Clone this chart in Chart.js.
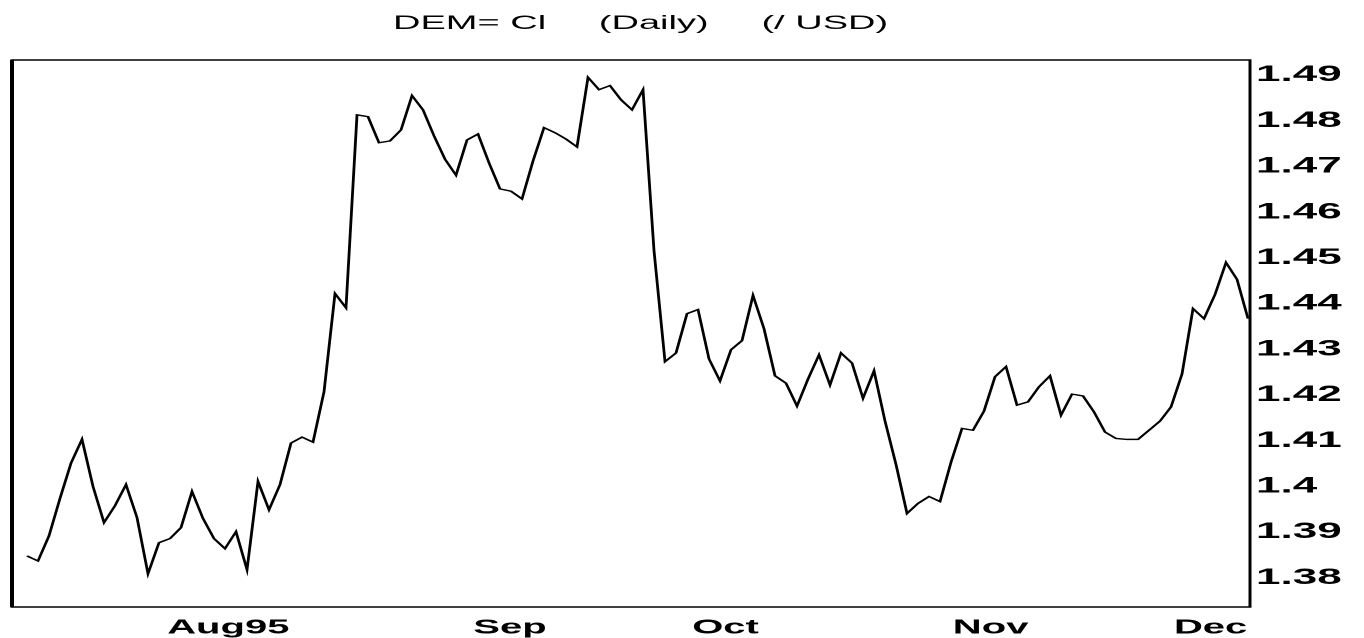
<!DOCTYPE html>
<html>
<head>
<meta charset="utf-8">
<title>DEM= Cl (Daily) (/ USD)</title>
<script src="https://cdn.jsdelivr.net/npm/chart.js@4.4.1/dist/chart.umd.min.js"></script>
<style>
    html, body {
        margin: 0;
        padding: 0;
        background: #fff;
        overflow: hidden;
        height: 638px;
    }
    /* the scan is stretched sideways, so the chart is drawn at half width and widened */
    #stretch {
        width: 682px;
        height: 648px;
        transform: scaleX(2);
        transform-origin: 0 0;
    }
</style>
</head>
<body>
<div id="stretch">
    <canvas id="rateCanvas" width="682" height="648"></canvas>
</div>
<script>
// 標題
const TITLE = 'DEM= Cl     (Daily)     (/ USD)';

// daily closes, one per trading day
const rate = [
    1.3848, 1.3837, 1.3892, 1.3974, 1.4051, 1.4103, 1.4000, 1.3921, 1.3958, 1.4004,
    1.3932, 1.3809, 1.3877, 1.3886, 1.3910, 1.3989, 1.3930, 1.3886, 1.3864, 1.3901,
    1.3818, 1.4011, 1.3949, 1.4004, 1.4095, 1.4108, 1.4097, 1.4207, 1.4422, 1.4391,
    1.4813, 1.4809, 1.4752, 1.4756, 1.4780, 1.4855, 1.4824, 1.4767, 1.4716, 1.4681,
    1.4758, 1.4771, 1.4708, 1.4651, 1.4646, 1.4629, 1.4712, 1.4785, 1.4774, 1.4760,
    1.4743, 1.4895, 1.4868, 1.4877, 1.4846, 1.4824, 1.4868, 1.4516, 1.4273, 1.4292,
    1.4378, 1.4387, 1.4279, 1.4231, 1.4299, 1.4319, 1.4418, 1.4345, 1.4242, 1.4226,
    1.4176, 1.4235, 1.4288, 1.4222, 1.4292, 1.4270, 1.4193, 1.4253, 1.4143, 1.4048,
    1.3941, 1.3963, 1.3978, 1.3967, 1.4053, 1.4127, 1.4123, 1.4165, 1.4240, 1.4262,
    1.4178, 1.4185, 1.4218, 1.4242, 1.4156, 1.4202, 1.4198, 1.4163, 1.4119, 1.4105,
    1.4103, 1.4103, 1.4123, 1.4143, 1.4174, 1.4246, 1.4389, 1.4367, 1.4420, 1.4490,
    1.4453, 1.4367
];

// month labels and the trading-day position each one sits on
const monthLabels = ['Aug95', 'Sep', 'Oct', 'Nov', 'Dec'];
const monthPos = [18.3, 43.9, 63.5, 87.6, 107.6];

// right axis
const yTickValues = [1.38, 1.39, 1.40, 1.41, 1.42, 1.43, 1.44, 1.45, 1.46, 1.47, 1.48, 1.49];
const yTickLabels = ['1.38', '1.39', '1.4', '1.41', '1.42', '1.43', '1.44', '1.45', '1.46', '1.47', '1.48', '1.49'];

const FONT = "'Liberation Sans', Arial, Helvetica, sans-serif";

document.addEventListener('DOMContentLoaded', function() {
    const ctx = document.getElementById('rateCanvas').getContext('2d');

    // 外框 + 標題
    const framePlugin = {
        id: 'frame',
        afterDraw(chart) {
            const a = chart.chartArea;
            const c = chart.ctx;
            c.save();
            c.strokeStyle = '#000';
            c.lineWidth = 1.5;
            c.strokeRect(a.left, a.top, a.right - a.left, a.bottom - a.top);
            // the left edge is heavier on the scan
            c.lineWidth = 2;
            c.beginPath();
            c.moveTo(a.left, a.top);
            c.lineTo(a.left, a.bottom);
            c.stroke();
            c.fillStyle = '#000';
            c.font = '19px ' + FONT;
            c.textAlign = 'left';
            c.textBaseline = 'alphabetic';
            c.fillText(TITLE, 196.5, 29);
            c.restore();
        }
    };

    new Chart(ctx, {
        type: 'line',
        data: {
            datasets: [{
                data: rate.map((v, i) => ({ x: i, y: v })),
                borderColor: '#000',
                borderWidth: 1.4,
                pointRadius: 0,
                tension: 0,
                fill: false
            }]
        },
        options: {
            responsive: false,
            devicePixelRatio: 2,
            animation: false,
            layout: {
                padding: { top: 60, left: 6, right: 0, bottom: 3 }
            },
            plugins: {
                legend: { display: false },
                title: { display: false },
                tooltip: { enabled: false }
            },
            scales: {
                x: {
                    type: 'linear',
                    min: -1.364,
                    max: 111.18,
                    grid: { display: false, drawTicks: false },
                    border: { display: false },
                    afterBuildTicks: function(scale) {
                        scale.ticks = monthPos.map(v => ({ value: v }));
                    },
                    afterFit: function(scale) {
                        scale.height = 38;
                    },
                    ticks: {
                        autoSkip: false,
                        maxRotation: 0,
                        padding: 9,
                        color: '#000',
                        font: { family: FONT, size: 20, weight: 'bold' },
                        callback: function(value, index) {
                            return monthLabels[index];
                        }
                    }
                },
                y: {
                    position: 'right',
                    min: 1.37363,
                    max: 1.49330,
                    grid: { display: false, drawTicks: false },
                    border: { display: false },
                    afterBuildTicks: function(scale) {
                        scale.ticks = yTickValues.map(v => ({ value: v }));
                    },
                    afterFit: function(scale) {
                        scale.width = 57;
                    },
                    ticks: {
                        padding: 3,
                        color: '#000',
                        font: { family: FONT, size: 22, weight: 'bold' },
                        callback: function(value, index) {
                            return yTickLabels[index];
                        }
                    }
                }
            }
        },
        plugins: [framePlugin]
    });
});
</script>
</body>
</html>
